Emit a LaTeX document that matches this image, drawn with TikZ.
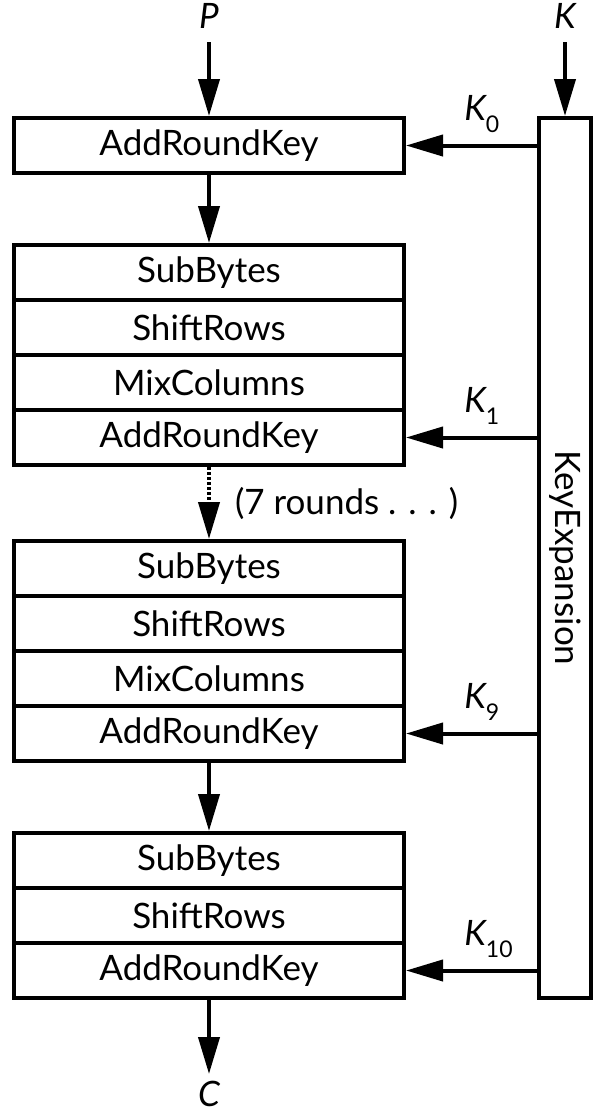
\documentclass[tikz,border=0pt]{standalone}
\usepackage{fontspec}
\setmainfont{Lato}
\usetikzlibrary{arrows.meta}
\newcommand\cle[1]{\textit{K}\raisebox{-6pt}{\upshape\fontsize{11.5}{12}\selectfont #1}}
\begin{document}
\begin{tikzpicture}[x=0.5pt,y=-0.5pt]
  \tikzstyle{boite}=[rectangle, draw=black, line width=2pt, minimum width=195pt,
  minimum height=27.5pt, inner sep=0pt, font=\fontsize{17.5}{20}\selectfont]
  \tikzstyle{etiq}=[font=\fontsize{17.5}{20}\selectfont\itshape]
  \tikzstyle{fleche}=[-{Triangle[length=18.5pt,width=10.5pt]},line width=2pt]
  \tikzstyle{pointille}=[dash pattern=on 1.5pt off 1pt]
  \useasboundingbox (0,0) rectangle (610,1116);
  \node[boite] (ark0) at (209,145.5) {AddRoundKey};
  \foreach \n/\y/\t in {sb1/272.5/SubBytes,sr1/327.5/ShiftRows,mc1/382.5/MixColumns,
    ark1/437.5/AddRoundKey,sb9/568.5/SubBytes,sr9/623.5/ShiftRows,
    mc9/678.5/MixColumns,ark9/733.5/AddRoundKey,sb10/860.5/SubBytes,
    sr10/915.5/ShiftRows,ark10/970.5/AddRoundKey} {
    \node[boite] (\n) at (209,\y) {\t};
  }
  \node[boite, rotate=-90, minimum width=440pt, minimum height=26pt] (ke) at (565,558) {KeyExpansion};
  \node[etiq, anchor=south, inner sep=6.5pt] (p) at (209,42) {P};
  \node[etiq, anchor=south, inner sep=6.5pt] (k) at (565,42) {K};
  \node[etiq, anchor=north, inner sep=3.5pt] (c) at (209,1074) {C};
  \draw[fleche] (p) -- (ark0);
  \draw[fleche] (k) -- (ke.west);
  \draw[fleche] (ark0) -- (sb1);
  \draw[fleche, pointille] (ark1) -- node[anchor=west, xshift=12pt, inner sep=0pt,
  font=\fontsize{17.5}{20}\selectfont] {(7 rounds . . . )} (sb9);
  \draw[fleche] (ark9) -- (sb10);
  \draw[fleche] (ark10) -- (c);
  \foreach \n/\i in {ark0/0,ark1/1,ark9/9,ark10/10} {
    \draw[fleche] (ke.south |- \n.east) -- node[pos=0.57, anchor=base west, inner sep=0pt,
    yshift=12.5pt, etiq] {\cle{\i}} (\n.east);
  }
\end{tikzpicture}
\end{document}
